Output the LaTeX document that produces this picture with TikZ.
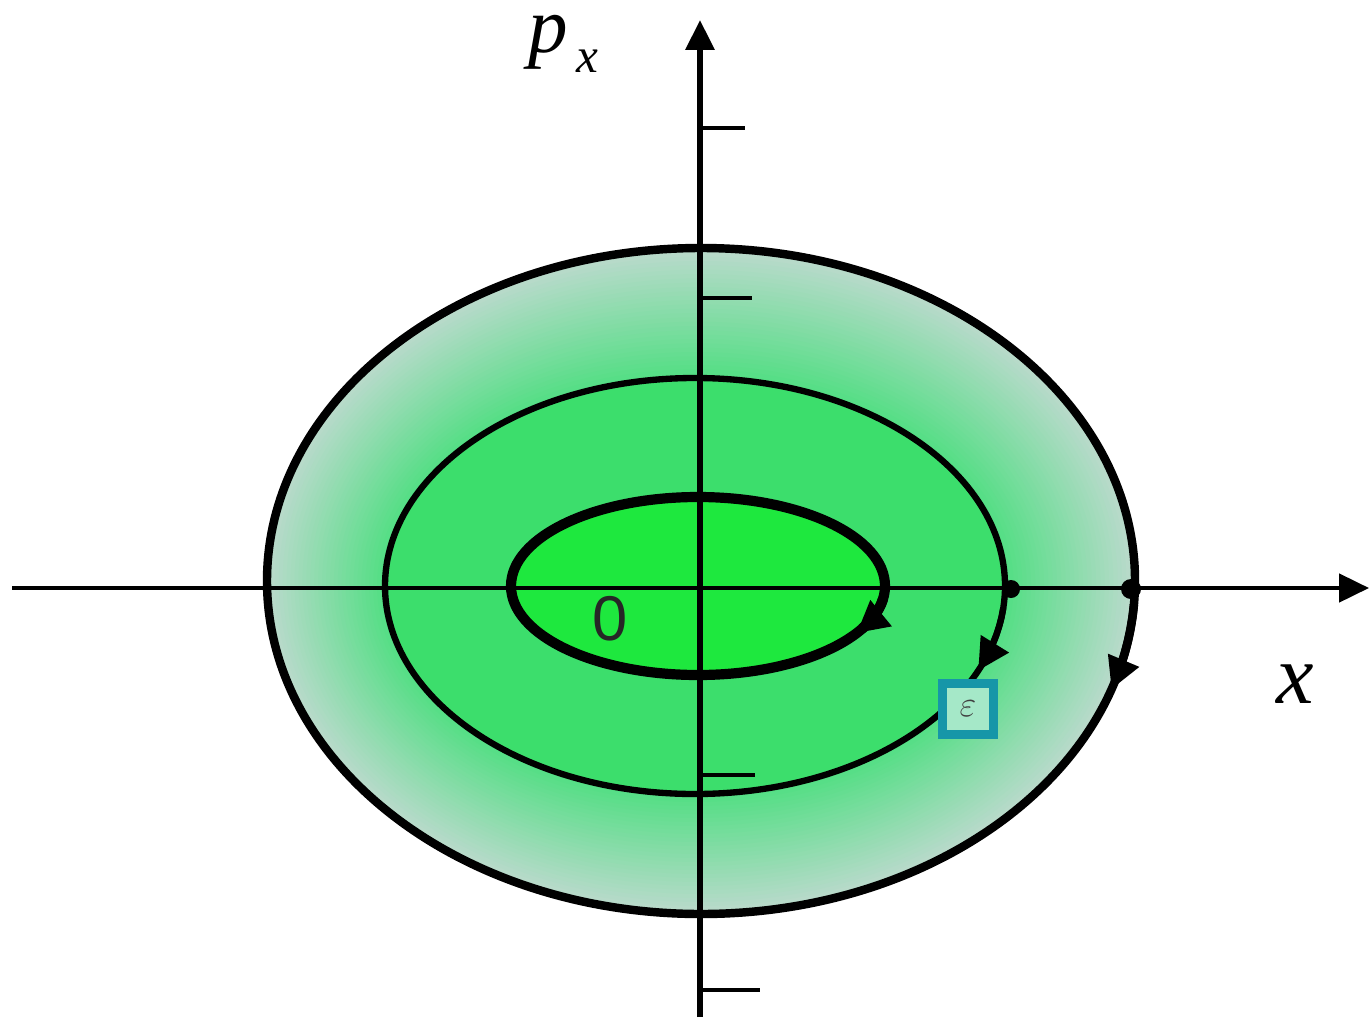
\documentclass[tikz,border=0pt]{standalone}
\usepackage{fontspec}
\setmainfont{Liberation Serif}
\newfontfamily\labsans{Liberation Sans}
\usetikzlibrary{arrows.meta}
\definecolor{ringout}{RGB}{186,218,204}
\definecolor{ringin}{RGB}{80,222,130}
\definecolor{midgreen}{RGB}{60,222,108}
\definecolor{ingreen}{RGB}{30,232,62}
\definecolor{tealbox}{RGB}{22,150,168}
\definecolor{boxin}{RGB}{165,232,200}
\tikzset{
  axisline/.style={draw=black, -{Triangle[length=17pt,width=16pt]}},
  tickline/.style={draw=black, line width=2pt},
  orbit/.style={draw=black},
  orbittip/.style={draw=black, -{Triangle[length=18pt,width=18pt]}},
  crossdot/.style={fill=black},
  lab/.style={inner sep=0pt, anchor=base west, text=black}
}
\begin{document}
\begin{tikzpicture}[x=0.02cm,y=-0.02cm]
\useasboundingbox (0,0) rectangle (1371,1017);
\fill[white] (0,0) rectangle (1371,1017);
% graded outer ring
\foreach \i in {0,...,30} {
  \pgfmathsetmacro\f{\i/30}
  \pgfmathsetmacro\cx{701-6*\f}
  \pgfmathsetmacro\cy{581+5*\f}
  \pgfmathsetmacro\rx{434-124*\f}
  \pgfmathsetmacro\ry{333-125*\f}
  \pgfmathsetmacro\pct{100*\f}
  \fill[ringin!\pct!ringout] (\cx,\cy) ellipse [x radius=\rx, y radius=\ry];
}
\fill[midgreen] (695,586) ellipse [x radius=310, y radius=208];
\fill[ingreen] (698,586) ellipse [x radius=187, y radius=89];
% axes
\coordinate (yb) at (700,1017);
\coordinate (yt) at (700,20);
\coordinate (xl) at (12,588);
\coordinate (xr) at (1369,588);
\draw[axisline, line width=3.2pt] (yb) -- (yt);
\draw[axisline, line width=2.3pt] (xl) -- (xr);
% ticks
\coordinate (t1) at (700,128); \coordinate (t1e) at (745,128);
\coordinate (t2) at (700,298); \coordinate (t2e) at (752,298);
\coordinate (t3) at (700,775); \coordinate (t3e) at (755,775);
\coordinate (t4) at (700,990); \coordinate (t4e) at (760,990);
\draw[tickline] (t1) -- (t1e);
\draw[tickline] (t2) -- (t2e);
\draw[tickline] (t3) -- (t3e);
\draw[tickline] (t4) -- (t4e);
% orbits
\draw[orbit, line width=4.8pt] (701,581) ellipse [x radius=434, y radius=333];
\draw[orbit, line width=3.6pt] (695,586) ellipse [x radius=310, y radius=208];
\draw[orbit, line width=5.8pt] (698,586) ellipse [x radius=187, y radius=89];
% direction arrowheads
\draw[orbittip, line width=4.8pt] plot[domain=4:19, samples=8] ({701+434*cos(\x)},{581+333*sin(\x)});
\draw[orbittip, line width=3.6pt] plot[domain=6:24, samples=8] ({695+310*cos(\x)},{586+208*sin(\x)});
\draw[orbittip, line width=5.8pt] plot[domain=8:32, samples=8] ({698+187*cos(\x)},{586+89*sin(\x)});
% crossing marks
\fill[crossdot] (1011,589) circle [radius=9];
\fill[crossdot] (1131,589) circle [radius=10];
% teal box
\node[draw=tealbox, fill=boxin, line width=5pt, minimum size=1.02cm, inner sep=0pt] (eps) at (968,709) {\fontsize{20}{20}\selectfont\color{black!75}$\varepsilon$};
% labels
\node[lab, font=\fontsize{45}{45}\selectfont\itshape] (px) at (528,53) {p\raisebox{-11pt}{\fontsize{28}{28}\selectfont\,x}};
\node[lab, font=\fontsize{48}{48}\selectfont\itshape] (xlab) at (1276,703) {x};
\node[text=black!85, inner sep=0pt, font=\labsans\fontsize{36}{36}\selectfont] (zero) at (610,619) {0};
\end{tikzpicture}
\end{document}
